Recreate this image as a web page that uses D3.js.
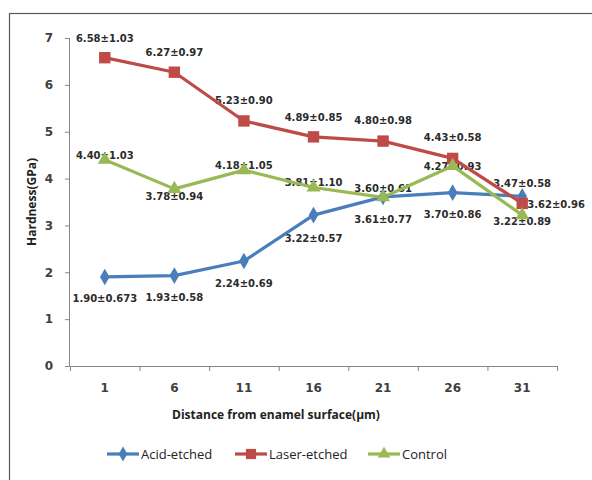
<!DOCTYPE html>
<html><head><meta charset="utf-8">
<script src="https://cdn.jsdelivr.net/npm/d3@7"></script>
<style>body{margin:0;background:#fff}</style>
</head><body>
<svg id="c" width="592" height="480"></svg>
<script>
const categories = ["1","6","11","16","21","26","31"];
const acidValues = [1.90,1.93,2.24,3.22,3.61,3.70,3.62];
const acidSD = ["0.673","0.58","0.69","0.57","0.77","0.86","0.96"];
const laserValues = [6.58,6.27,5.23,4.89,4.80,4.43,3.47];
const laserSD = ["1.03","0.97","0.90","0.85","0.98","0.58","0.58"];
const controlValues = [4.40,3.78,4.18,3.81,3.60,4.27,3.22];
const controlSD = ["1.03","0.94","1.05","1.10","0.61","0.93","0.89"];
const yTicks = [0,1,2,3,4,5,6,7];
const seriesNames = ["Acid-etched","Laser-etched","Control"];

// label placement (layout, not data): [dx, dy, anchor]
const acidLabelPos = [[0,25,"middle"],[0,25,"middle"],[0,26,"middle"],[0,27,"middle"],[0,26,"middle"],[0,25,"middle"],[5,12,"start"]];
const laserLabelPos = [[0,-16,"middle"],[0,-16,"middle"],[0,-17,"middle"],[0,-16,"middle"],[0,-17,"middle"],[0,-17,"middle"],[0,-16,"middle"]];
const controlLabelPos = [[0,-1,"middle"],[0,11,"middle"],[0,-1,"middle"],[0,-1,"middle"],[0,-5,"middle"],[0,4,"middle"],[0,10,"middle"]];

const svg = d3.select("#c");
svg.append("rect").attr("x",9.5).attr("y",13.5).attr("width",600).attr("height",480)
  .attr("fill","none").attr("stroke","#595959").attr("stroke-width",1.2);

const x = d3.scaleBand().domain(categories).range([70,557]);
const y = d3.scaleLinear().domain([0,7]).range([366,38]);
const axisColor = "#868686";
const tickFont = "'DejaVu Sans', Verdana, sans-serif";

// y axis
const ya = svg.append("g").attr("transform","translate(70,0)")
  .call(d3.axisLeft(y).tickValues(yTicks).tickSize(5).tickPadding(12).tickFormat(d3.format("d")));
ya.select(".domain").attr("stroke",axisColor).attr("d","M-0.5,38V366");
ya.selectAll(".tick line").attr("stroke",axisColor);
ya.selectAll(".tick text").attr("fill","#404040").style("font-family",tickFont).style("font-size","12px").style("font-weight","bold");

// x axis
const xa = svg.append("g").attr("transform","translate(0,366)")
  .call(d3.axisBottom(x).tickSize(0).tickPadding(17));
xa.select(".domain").attr("stroke",axisColor).attr("d","M70,0.5H557");
xa.selectAll(".tick text").attr("fill","#404040").style("font-family",tickFont).style("font-size","12px").style("font-weight","bold");
const bounds = categories.map(c=>x(c)).concat([x.range()[1]]);
xa.selectAll(".bt").data(bounds).enter().append("line")
  .attr("x1",d=>d+0.5).attr("x2",d=>d+0.5).attr("y1",0).attr("y2",5).attr("stroke",axisColor);

svg.append("text").attr("x",276).attr("y",419).attr("text-anchor","middle")
  .style("font-family","'Open Sans', sans-serif").style("font-size","12px").style("font-weight","bold").attr("fill","#222")
  .text("Distance from enamel surface(μm)");
svg.append("text").attr("transform","translate(36,202) rotate(-90)").attr("text-anchor","middle")
  .style("font-family","'Open Sans', sans-serif").style("font-size","12px").style("font-weight","bold").attr("fill","#222")
  .text("Hardness(GPa)");

const colors = ["#4a7ebb","#be4b48","#98b954"];
const series = [
  {vals:acidValues, sd:acidSD, pos:acidLabelPos, sym:d3.symbolDiamond, size:80},
  {vals:laserValues, sd:laserSD, pos:laserLabelPos, sym:d3.symbolSquare, size:130},
  {vals:controlValues, sd:controlSD, pos:controlLabelPos, sym:d3.symbolTriangle, size:85}
];
const cx = c => x(c) + x.bandwidth()/2;
const line = d3.line().x((d,i)=>cx(categories[i])).y(d=>y(d));

series.forEach((s,k)=>{
  svg.selectAll(".l"+k).data(s.vals).enter().append("text")
    .attr("x",(d,i)=>cx(categories[i])+s.pos[i][0])
    .attr("y",(d,i)=>y(d)+s.pos[i][1])
    .attr("text-anchor",(d,i)=>s.pos[i][2])
    .style("font-family",tickFont).style("font-size","10px").style("font-weight","bold").attr("fill","#2b2b2b")
    .text((d,i)=>d.toFixed(2)+"±"+s.sd[i]);
});
series.forEach((s,k)=>{
  svg.append("path").attr("d",line(s.vals)).attr("fill","none").attr("stroke",colors[k]).attr("stroke-width",3.2).attr("stroke-linejoin","round");
});
series.forEach((s,k)=>{
  svg.selectAll(".m"+k).data(s.vals).enter().append("path")
    .attr("d",d3.symbol().type(s.sym).size(s.size))
    .attr("transform",(d,i)=>`translate(${cx(categories[i])},${y(d)})`)
    .attr("fill",colors[k]);
});

// legend
const legX = [107,235,368];
seriesNames.forEach((n,k)=>{
  const g = svg.append("g").attr("transform",`translate(${legX[k]},454)`);
  g.append("line").attr("x1",0).attr("x2",32).attr("y1",0).attr("y2",0).attr("stroke",colors[k]).attr("stroke-width",3.2);
  g.append("path").attr("d",d3.symbol().type(series[k].sym).size(series[k].size*0.8)).attr("transform","translate(16,0)").attr("fill",colors[k]);
  g.append("text").attr("x",34).attr("y",5).style("font-family","'Open Sans', sans-serif").style("font-size","13px").attr("fill","#222").text(n);
});
</script>
</body></html>
